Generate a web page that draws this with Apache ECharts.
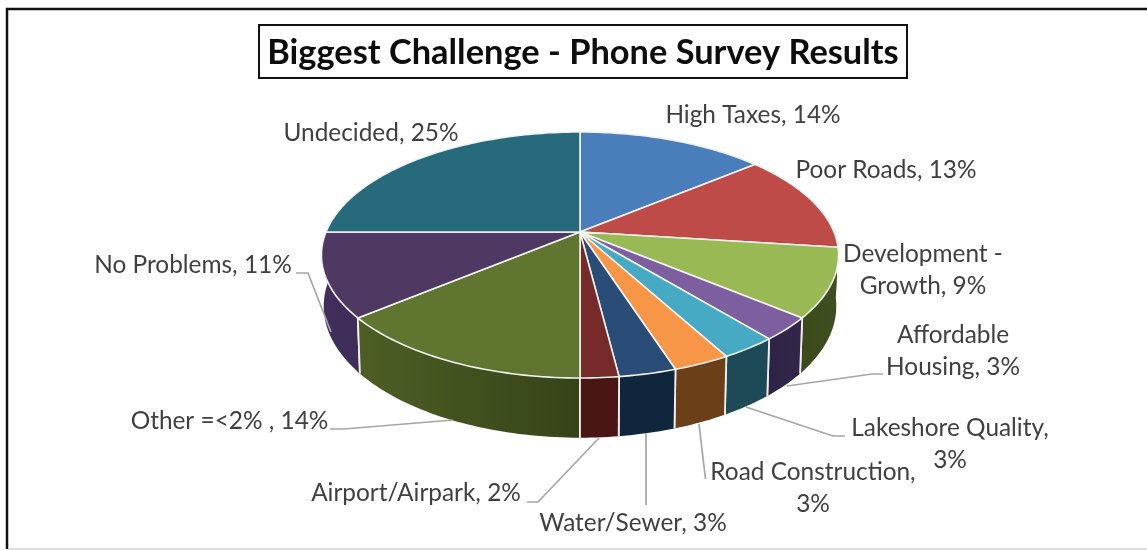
<!DOCTYPE html>
<html>
<head>
<meta charset="utf-8">
<style>html,body{margin:0;padding:0;background:#fff}#chart{width:1147px;height:550px}</style>
<script src="https://cdn.jsdelivr.net/npm/echarts@6/dist/echarts.min.js"></script>
</head>
<body>
<div id="chart"></div>
<script>
// Survey results, clockwise from twelve o'clock
const titleText = 'Biggest Challenge - Phone Survey Results';
const categories = ['High Taxes', 'Poor Roads', 'Development - Growth', 'Affordable Housing',
  'Lakeshore Quality', 'Road Construction', 'Water/Sewer', 'Airport/Airpark',
  'Other =<2% ', 'No Problems', 'Undecided'];
const percents = [14, 13, 9, 3, 3, 3, 3, 2, 14, 11, 25];

// Slice faces and the darker shades of their outer walls (left, right)
const topColors = ['#4a7ebb', '#be4b48', '#98b954', '#7d5fa0', '#46aac4', '#f79646',
  '#2a4d77', '#772a2a', '#5f7530', '#4f3862', '#276a7c'];
const wallColors = [['#2c4c72', '#2c4c72'], ['#72302e', '#72302e'], ['#3a4a1c', '#3f4f1e'],
  ['#2f2445', '#33264a'], ['#1c4a57', '#1c4a57'], ['#6b3f18', '#6b3f18'],
  ['#10263c', '#10263c'], ['#4a1515', '#4a1515'], ['#4d5f24', '#364319'],
  ['#402f5c', '#3d2d58'], ['#17404c', '#17404c']];

// Perspective projection of the disc (angle measured clockwise from the back)
const view = { cx: 580, cy: 232, a: 254, b: 118.7, persp: 0.187, drop: 50.3, shrink: 0.0086 };

function project(angle, radius, level) {
  const s = Math.sin(angle) * radius, c = Math.cos(angle) * radius;
  const w = 1 + view.persp * c + view.shrink * level;
  return [view.cx + view.a * s / w, view.cy + (view.drop * level - view.b * c) / w];
}

const total = percents.reduce((sum, v) => sum + v, 0);
const startAngles = [];
percents.reduce((sum, v, i) => { startAngles[i] = sum / total * 2 * Math.PI; return sum + v; }, 0);
const sweep = i => percents[i] / total * 2 * Math.PI;

function arcPoints(from, to, level) {
  const pts = [], n = Math.max(2, Math.ceil((to - from) / 0.02));
  for (let j = 0; j <= n; j++) pts.push(project(from + (to - from) * j / n, 1, level));
  return pts;
}

// Outer walls only matter on the near half of the disc
const nearFrom = Math.PI * 0.5, nearTo = Math.PI * 1.5;
const seamFrom = Math.PI * 0.6, seamTo = Math.PI * 1.4;

function renderWall(params, api) {
  const i = api.value(0);
  const from = Math.max(startAngles[i], nearFrom), to = Math.min(startAngles[i] + sweep(i), nearTo);
  if (to <= from) return { type: 'group', children: [] };
  const pts = arcPoints(from, to, 0).concat(arcPoints(from, to, 1).reverse());
  const children = [{
    type: 'polygon', shape: { points: pts },
    style: { fill: new echarts.graphic.LinearGradient(0, 0, 1, 0, [
      { offset: 0, color: wallColors[i][0] }, { offset: 1, color: wallColors[i][1] }]) }
  }];
  [from, to].forEach(t => {
    if (t > seamFrom && t < seamTo) {
      const p = project(t, 1, 0), q = project(t, 1, 1);
      children.push({ type: 'line', shape: { x1: p[0], y1: p[1], x2: q[0], y2: q[1] },
        style: { stroke: '#eeeeee', lineWidth: 1.8 } });
    }
  });
  return { type: 'group', children };
}

function renderTop(params, api) {
  const i = api.value(0);
  const pts = [project(0, 0, 0)].concat(arcPoints(startAngles[i], startAngles[i] + sweep(i), 0));
  return { type: 'polygon', shape: { points: pts },
    style: { fill: topColors[i], stroke: '#f2f3f0', lineWidth: 1.6, lineJoin: 'round' } };
}

// Label placement: text lines, centre x, first line y, and the leader line if any
const labelLayout = [
  { lines: i => [`${categories[i]}, ${percents[i]}%`], x: 753, y: 115 },
  { lines: i => [`${categories[i]}, ${percents[i]}%`], x: 886, y: 170 },
  { lines: i => ['Development -', `Growth, ${percents[i]}%`], x: 923, y: 254 },
  { lines: i => ['Affordable', `Housing, ${percents[i]}%`], x: 953, y: 335,
    leader: [[883, 374], [872, 374], [787, 386]] },
  { lines: i => ['Lakeshore Quality,', `${percents[i]}%`], x: 950, y: 428,
    leader: [[845, 436], [833, 436], [746, 407]] },
  { lines: i => ['Road Construction,', `${percents[i]}%`], x: 813, y: 472,
    leader: [[705.5, 479], [699, 424]] },
  { lines: i => [`${categories[i]}, ${percents[i]}%`], x: 633, y: 523,
    leader: [[646, 505], [646, 433]] },
  { lines: i => [`${categories[i]}, ${percents[i]}%`], x: 416, y: 493,
    leader: [[527, 502], [538, 502], [599, 438]] },
  { lines: i => [`${categories[i]}, ${percents[i]}%`], x: 229.5, y: 421,
    leader: [[330, 429], [344, 429], [453, 420]] },
  { lines: i => [`${categories[i]}, ${percents[i]}%`], x: 193, y: 265,
    leader: [[296, 273], [308, 273], [331, 332]] },
  { lines: i => [`${categories[i]}, ${percents[i]}%`], x: 371, y: 133 }
];

const labelFont = 'Lato, "Open Sans", sans-serif';

function renderLabel(params, api) {
  const i = api.value(0), spec = labelLayout[i];
  const children = spec.lines(i).map((line, n) => ({
    type: 'text',
    style: { text: line, x: spec.x, y: spec.y + n * 32.5, fill: '#404040',
      font: '24.4px ' + labelFont, align: 'center', verticalAlign: 'middle' }
  }));
  if (spec.leader) children.push({ type: 'polyline', shape: { points: spec.leader },
    style: { stroke: '#a6a6a6', lineWidth: 1.7, fill: 'none' } });
  return { type: 'group', children };
}

// Walls are painted from the sides toward the front so nearer ones overlap
const wallOrder = percents.map((_, i) => i).sort((p, q) =>
  Math.abs(startAngles[q] + sweep(q) / 2 - Math.PI) - Math.abs(startAngles[p] + sweep(p) / 2 - Math.PI));
const indices = percents.map((_, i) => i);

const chart = echarts.init(document.getElementById('chart'), null, { renderer: 'canvas' });
chart.setOption({
  backgroundColor: '#ffffff',
  animation: false,
  graphic: [
    { type: 'polyline', z: 0, shape: { points: [[7, 549], [7, 9], [1147, 9]] },
      style: { stroke: '#111111', lineWidth: 2.5, fill: 'none' } },
    { type: 'line', z: 0, shape: { x1: 8, y1: 549, x2: 1147, y2: 549 },
      style: { stroke: '#d0d0d0', lineWidth: 1.5 } },
    { type: 'rect', z: 0, shape: { x: 259, y: 25, width: 648, height: 53 },
      style: { fill: '#ffffff', stroke: '#111111', lineWidth: 2 } },
    { type: 'text', z: 1, style: { text: titleText, x: 583, y: 53, fill: '#0d0d0d',
      font: 'bold 34.4px ' + labelFont, align: 'center', verticalAlign: 'middle' } }
  ],
  series: [
    { type: 'custom', coordinateSystem: 'none', silent: true, z: 2, data: wallOrder.map(i => [i]), renderItem: renderWall },
    { type: 'custom', coordinateSystem: 'none', silent: true, z: 3, data: indices.map(i => [i]), renderItem: renderTop },
    { type: 'custom', coordinateSystem: 'none', silent: true, z: 4, data: indices.map(i => [i]), renderItem: renderLabel }
  ]
});
</script>
</body>
</html>
